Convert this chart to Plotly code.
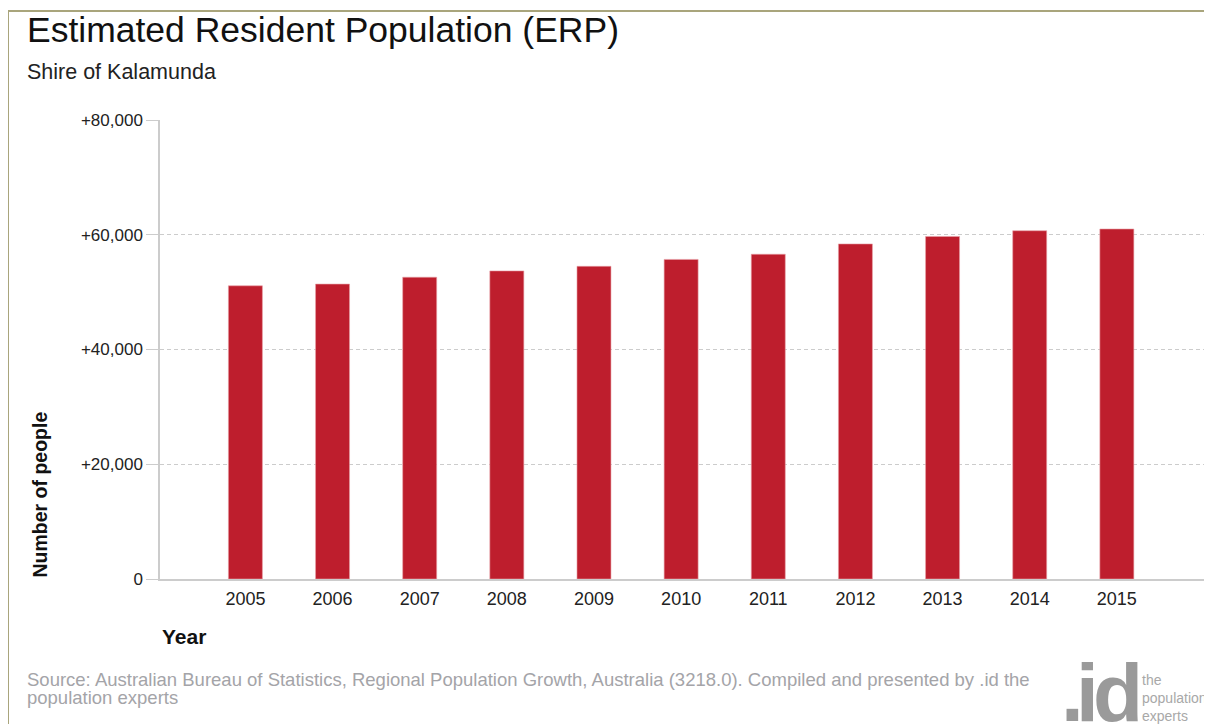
import plotly.graph_objects as go

# ---- data ----
years = [2005, 2006, 2007, 2008, 2009, 2010, 2011, 2012, 2013, 2014, 2015]
population = [51100, 51400, 52600, 53700, 54500, 55700, 56600, 58400, 59700, 60700, 61000]
y_tickvals = [0, 20000, 40000, 60000, 80000]
y_ticktext = ["0", "+20,000", "+40,000", "+60,000", "+80,000"]

title_text = "Estimated Resident Population (ERP)"
subtitle_text = "Shire of Kalamunda"
y_title = "Number of people"
x_title = "Year"
source_line1 = ("Source: Australian Bureau of Statistics, Regional Population Growth, Australia (3218.0). "
                "Compiled and presented by .id the")
source_line2 = "population experts"
logo_chars = [".", "i", "d"]
logo_tagline = "the<br>population<br>experts"

# ---- layout geometry (reference pixels; page body adds an 8px offset) ----
OFF = 8
W, H = 1212 - OFF, 724 - OFF
L, R, T, B = 160, 1204, 120, 579


def px(x):
    return (x - L) / (R - L)


def py(y):
    return (B - y) / (B - T)


FONT = "Arial, 'Liberation Sans', sans-serif"
BAR = "#BE1E2D"
GRID = "#cccccc"

fig = go.Figure()
fig.add_trace(go.Bar(
    x=years, y=population, width=0.39,
    marker=dict(color=BAR, line=dict(color="#e8a0a6", width=0.6)),
    hoverinfo="x+y", showlegend=False,
))

fig.update_layout(
    width=W, height=H,
    margin=dict(l=L - OFF, r=W - (R - OFF), t=T - OFF, b=H - (B - OFF), pad=0),
    paper_bgcolor="white", plot_bgcolor="white",
    font=dict(family=FONT, color="#222222"),
    xaxis=dict(
        range=[2004.02, 2016.0], tickvals=years, ticktext=[str(y) for y in years],
        tickfont=dict(size=18, color="#222222"), ticklabelstandoff=3,
        showgrid=False, zeroline=False, showline=True, linecolor=GRID, linewidth=1.5,
        ticks="", fixedrange=True,
    ),
    yaxis=dict(
        range=[0, 80000], tickvals=y_tickvals, ticktext=y_ticktext,
        tickfont=dict(size=17, color="#222222"),
        showgrid=True, gridcolor=GRID, griddash="4px,3px", gridwidth=1,
        zeroline=False, showline=True, linecolor=GRID, linewidth=1.5,
        ticks="outside", ticklen=12, tickcolor=GRID, tickwidth=1,
        fixedrange=True,
    ),
)

annotations = [
    dict(text=title_text, x=px(25), y=py(30), xanchor="left", yanchor="middle",
         font=dict(size=35.5, color="#111111", family=FONT)),
    dict(text=subtitle_text, x=px(25), y=py(72), xanchor="left", yanchor="middle",
         font=dict(size=21.5, color="#222222", family=FONT)),
    dict(text="<b>" + y_title + "</b>", x=px(39), y=py(494.5), textangle=-90,
         xanchor="center", yanchor="middle",
         font=dict(size=19.5, color="#111111", family=FONT)),
    dict(text="<b>" + x_title + "</b>", x=px(160), y=py(636.5), xanchor="left", yanchor="middle",
         font=dict(size=21, color="#111111", family=FONT)),
    dict(text=source_line1, x=px(25), y=py(679), xanchor="left", yanchor="middle",
         font=dict(size=18.5, color="#a4a4a8", family=FONT)),
    dict(text=source_line2, x=px(25), y=py(697.5), xanchor="left", yanchor="middle",
         font=dict(size=18.5, color="#a4a4a8", family=FONT)),
    dict(text=logo_tagline, x=px(1140), y=py(698), xanchor="left", yanchor="middle",
         align="left", font=dict(size=14, color="#a8a8a8", family=FONT)),
]
for ch, cx in zip(logo_chars, [1072, 1087, 1118]):
    annotations.append(dict(text="<b>" + ch + "</b>", x=px(cx), y=py(740), xanchor="center",
                            yanchor="bottom", font=dict(size=82, color="#9a9a9a", family=FONT)))
for a in annotations:
    a.update(xref="paper", yref="paper", showarrow=False)
fig.update_layout(annotations=annotations)

BORDER = "#a9a57c"
fig.update_layout(shapes=[
    dict(type="line", xref="paper", yref="paper", x0=px(8), x1=px(1240), y0=py(11), y1=py(11),
         line=dict(color=BORDER, width=2)),
    dict(type="line", xref="paper", yref="paper", x0=px(8), x1=px(8), y0=py(11), y1=py(760),
         line=dict(color=BORDER, width=2)),
])

fig.write_html("out.html", config={"displayModeBar": False})
